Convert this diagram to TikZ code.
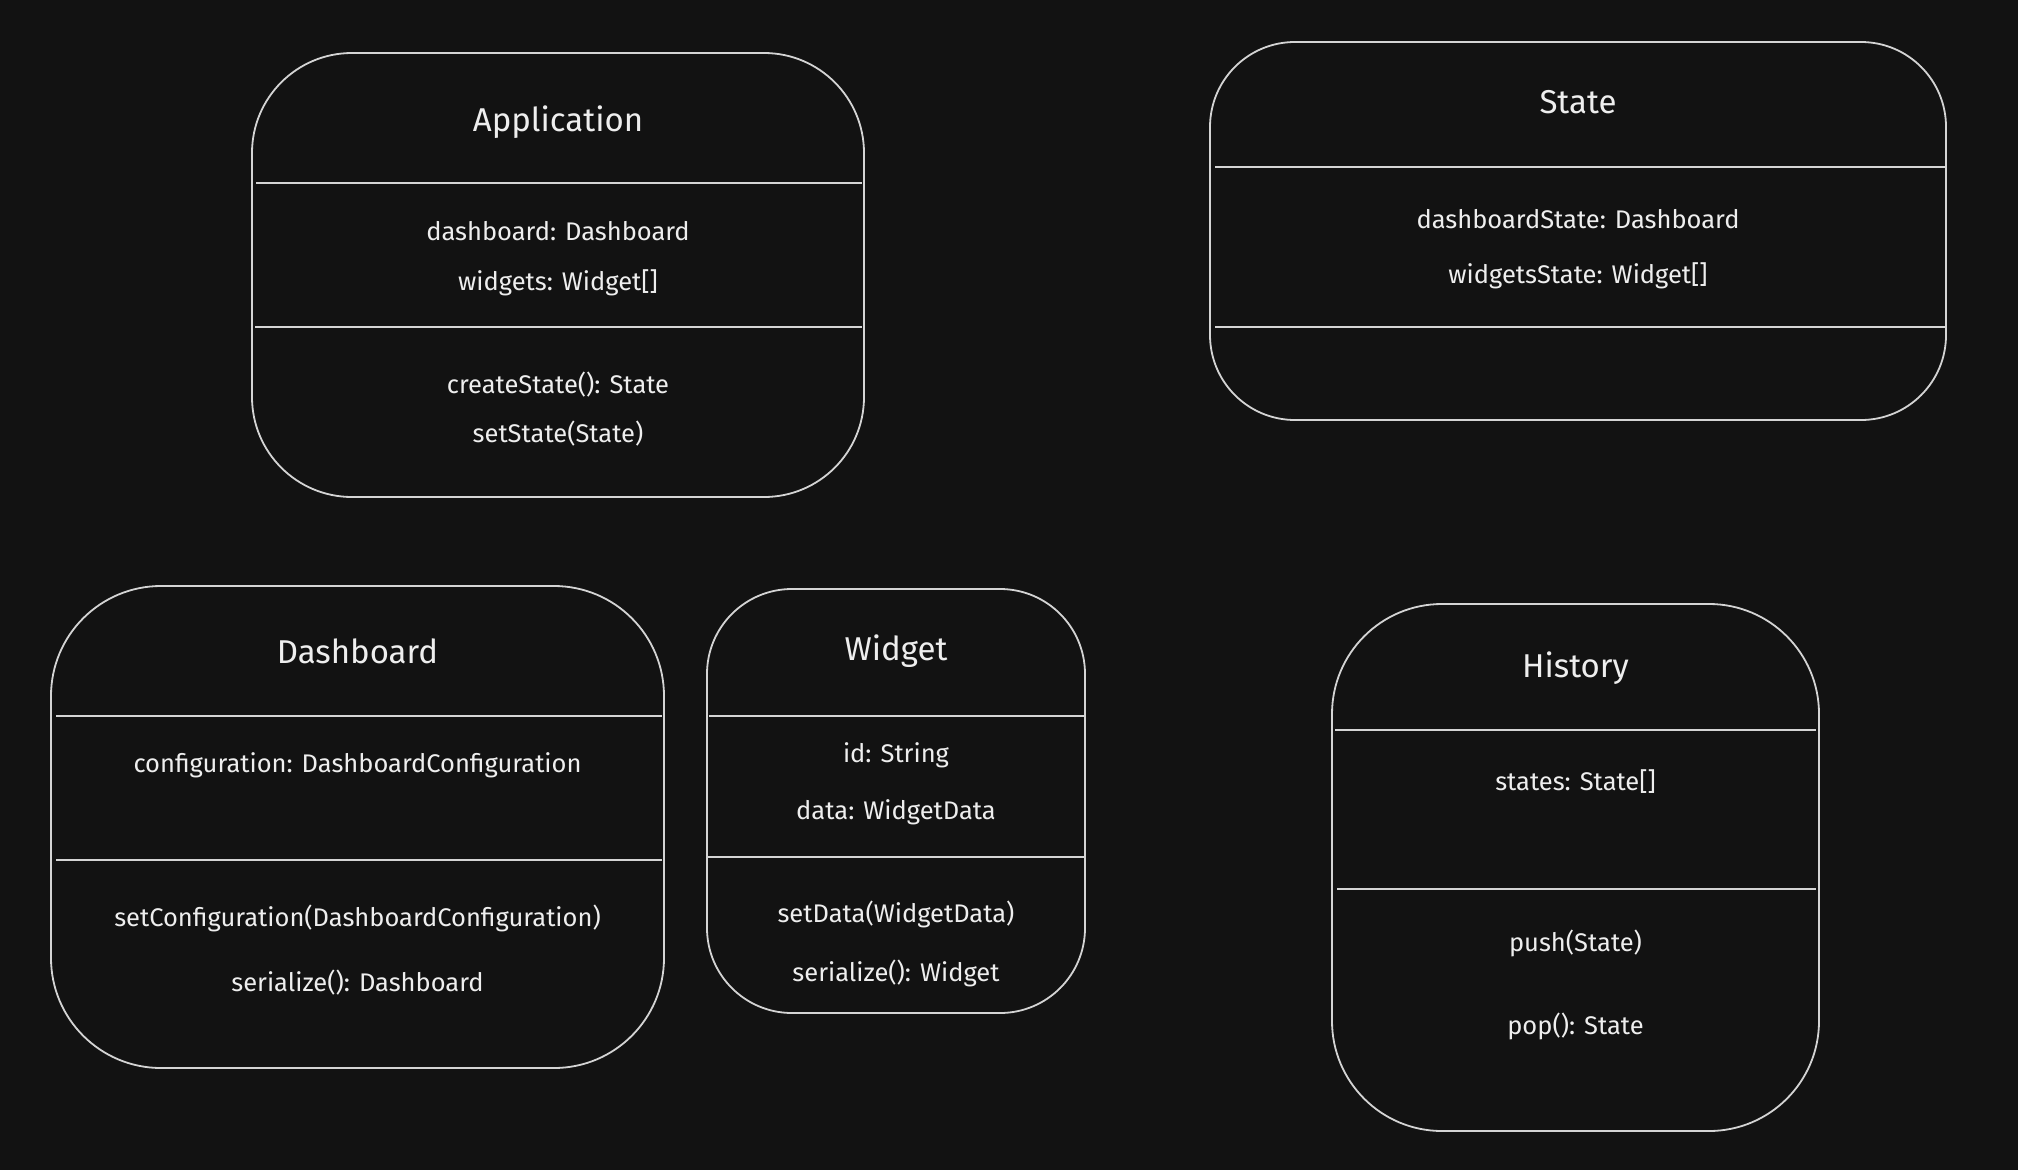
\documentclass[tikz,border=0pt]{standalone}
\usepackage{fontspec}
\setmainfont{Fira Sans}
\usepackage{tikz}
\usetikzlibrary{calc}
\definecolor{canvasbg}{RGB}{18,18,18}
\definecolor{sketchline}{RGB}{212,212,212}
\definecolor{sketchtext}{RGB}{238,238,238}

\begin{document}
\begin{tikzpicture}[
    x=1pt, y=-1pt,
    classbox/.style={draw=sketchline, line width=1.8pt, rounded corners=#1, inner sep=0pt},
    divider/.style={draw=sketchline, line width=2pt},
    classname/.style={text=sketchtext, font=\fontsize{33}{38}\selectfont, text height=0.7em, text depth=0.25em, inner sep=0pt, yshift=-8pt},
    member/.style={text=sketchtext, font=\fontsize{25.5}{30}\selectfont, text height=0.7em, text depth=0.25em, inner sep=0pt, yshift=-6pt}
]
    % Canvas
    \fill[canvasbg] (0,0) rectangle (2018,1170);
    \useasboundingbox (0,0) rectangle (2018,1170);

    % Application
    \node[classbox=100, minimum width=612, minimum height=444] (app) at (558,275) {};
    \node[classname] (apptitle) at (558,121) {Application};
    \node[member] (appattr1) at (558,232) {dashboard: Dashboard};
    \node[member] (appattr2) at (558,282) {widgets: Widget[]};
    \node[member] (appop1) at (558,385) {createState(): State};
    \node[member] (appop2) at (558,434) {setState(State)};
    \draw[divider] ($(app.west |- 0,183)+(5,0)$) -- ($(app.east |- 0,183)+(-3,0)$);
    \draw[divider] ($(app.west |- 0,327)+(4,0)$) -- ($(app.east |- 0,327)+(-3,0)$);

    % State
    \node[classbox=85, minimum width=736, minimum height=378] (state) at (1578,231) {};
    \node[classname] (statetitle) at (1578,103) {State};
    \node[member] (stateattr1) at (1578,220) {dashboardState: Dashboard};
    \node[member] (stateattr2) at (1578,275) {widgetsState: Widget[]};
    \draw[divider] ($(state.west |- 0,167)+(6,0)$) -- ($(state.east |- 0,167)+(-2,0)$);
    \draw[divider] ($(state.west |- 0,327)+(6,0)$) -- ($(state.east |- 0,327)+(-2,0)$);

    % Dashboard
    \node[classbox=110, minimum width=613, minimum height=482] (dash) at (357.5,827) {};
    \node[classname] (dashtitle) at (357.5,653) {Dashboard};
    \node[member] (dashattr1) at (357.5,764) {configuration: DashboardConfiguration};
    \node[member] (dashop1) at (357.5,918) {setConfiguration(DashboardConfiguration)};
    \node[member] (dashop2) at (357.5,983) {serialize(): Dashboard};
    \draw[divider] ($(dash.west |- 0,716)+(6,0)$) -- ($(dash.east |- 0,716)+(-3,0)$);
    \draw[divider] ($(dash.west |- 0,860)+(6,0)$) -- ($(dash.east |- 0,860)+(-3,0)$);

    % Widget
    \node[classbox=85, minimum width=378, minimum height=424] (widget) at (896,801) {};
    \node[classname] (widgettitle) at (896,650) {Widget};
    \node[member] (widgetattr1) at (896,754) {id: String};
    \node[member] (widgetattr2) at (896,811) {data: WidgetData};
    \node[member] (widgetop1) at (896,914) {setData(WidgetData)};
    \node[member] (widgetop2) at (896,973) {serialize(): Widget};
    \draw[divider] ($(widget.west |- 0,716)+(3,0)$) -- ($(widget.east |- 0,716)+(-1,0)$);
    \draw[divider] ($(widget.west |- 0,857)+(2,0)$) -- ($(widget.east |- 0,857)+(-1,0)$);

    % History
    \node[classbox=110, minimum width=487, minimum height=527] (history) at (1575.5,867.5) {};
    \node[classname] (historytitle) at (1575.5,667) {History};
    \node[member] (historyattr1) at (1575.5,782) {states: State[]};
    \node[member] (historyop1) at (1575.5,943) {push(State)};
    \node[member] (historyop2) at (1575.5,1026) {pop(): State};
    \draw[divider] ($(history.west |- 0,730)+(4,0)$) -- ($(history.east |- 0,730)+(-4,0)$);
    \draw[divider] ($(history.west |- 0,889)+(6,0)$) -- ($(history.east |- 0,889)+(-4,0)$);
\end{tikzpicture}
\end{document}
